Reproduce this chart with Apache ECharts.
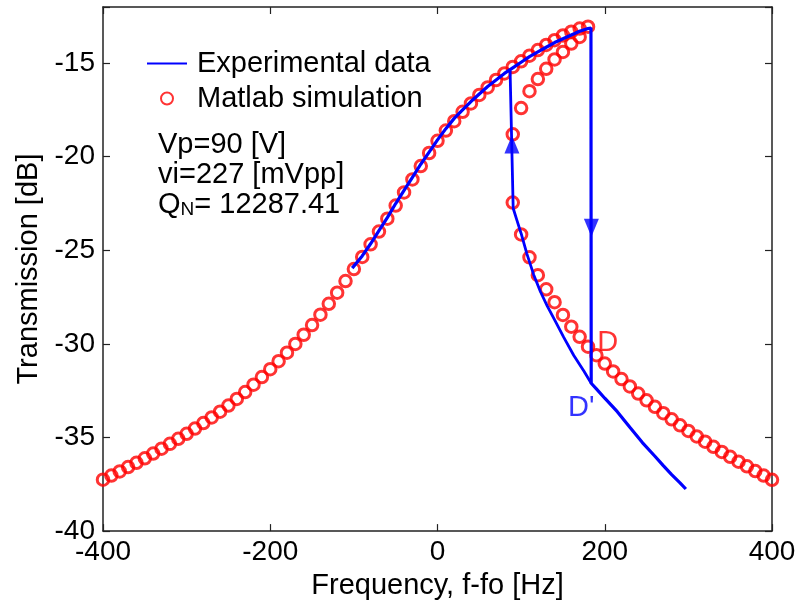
<!DOCTYPE html>
<html>
<head>
<meta charset="utf-8">
<script src="https://cdn.jsdelivr.net/npm/echarts@6/dist/echarts.min.js"></script>
<style>
html,body{margin:0;padding:0;background:#fff;}
#chart{width:800px;height:605px;}
</style>
</head>
<body>
<div id="chart"></div>
<script>
// ---- Data ----
const xTicks = [-400, -200, 0, 200, 400];
const yTicks = [-40, -35, -30, -25, -20, -15];

// Matlab simulation: main branch (left side + upper branch up to jump point)
const simMainF = [-400,-390,-380,-370,-360,-350,-340,-330,-320,-310,-300,-290,-280,-270,-260,-250,-240,-230,-220,-210,-200,-190,-180,-170,-160,-150,-140,-130,-120,-110,-100,-90,-80,-70,-60,-50,-40,-30,-20,-10,0,10,20,30,40,50,60,70,80,90,100,110,120,130,140,150,160,170,180];
const simMainT = [-37.25,-37.03,-36.81,-36.58,-36.35,-36.11,-35.86,-35.60,-35.34,-35.07,-34.80,-34.52,-34.23,-33.93,-33.62,-33.29,-32.94,-32.57,-32.18,-31.77,-31.35,-30.92,-30.47,-30.00,-29.51,-28.99,-28.44,-27.86,-27.26,-26.64,-26.00,-25.35,-24.68,-24.00,-23.31,-22.61,-21.91,-21.21,-20.50,-19.80,-19.15,-18.60,-18.10,-17.60,-17.15,-16.70,-16.30,-15.90,-15.55,-15.20,-14.90,-14.60,-14.30,-14.03,-13.77,-13.52,-13.32,-13.15,-13.05];
// Matlab simulation: middle (unstable) branch
const simMidF = [90,100,110,120,130,140,150,160,170];
const simMidT = [-18.8,-17.4,-16.5,-15.85,-15.3,-14.8,-14.4,-13.95,-13.6];
// Matlab simulation: lower-right branch
const simLowF = [90,100,110,120,130,140,150,160,170,180,190,200,210,220,230,240,250,260,270,280,290,300,310,320,330,340,350,360,370,380,390,400];
const simLowT = [-22.45,-24.15,-25.37,-26.33,-27.08,-27.77,-28.45,-29.08,-29.62,-30.15,-30.6,-31.05,-31.47,-31.88,-32.27,-32.65,-33.01,-33.36,-33.70,-34.03,-34.35,-34.65,-34.94,-35.22,-35.50,-35.77,-36.03,-36.29,-36.54,-36.79,-37.03,-37.26];

// Experimental data: sweep-up path (upper branch, jump down at D', then lower branch)
const expUpF = [-102,-90,-80,-70,-60,-50,-40,-30,-20,-10,0,10,20,30,40,50,60,70,80,90,100,110,120,130,140,150,160,170,180,183.5,183.8,190,200,215,230,245,260,270,280,290,297];
const expUpT = [-25.95,-25.3,-24.65,-23.95,-23.25,-22.5,-21.8,-21.1,-20.4,-19.75,-19.1,-18.5,-17.95,-17.5,-17.05,-16.65,-16.25,-15.9,-15.55,-15.25,-14.95,-14.65,-14.4,-14.15,-13.9,-13.7,-13.5,-13.3,-13.15,-13.12,-32.1,-32.4,-32.9,-33.62,-34.45,-35.27,-36.0,-36.5,-36.98,-37.42,-37.75];
// Experimental data: sweep-down path (jump up near 90 Hz, lower branch to D')
const expDownF = [86.8,90.5,95,100,107,115,123,131,141,151,163,175,183.8];
const expDownT = [-15.4,-22.75,-23.4,-24.1,-25.2,-26.3,-27.2,-27.95,-28.8,-29.65,-30.62,-31.45,-32.1];

// Arrow heads (data coordinates) and their directions
const arrowUp = [89, -19.35];
const arrowDown = [184, -23.8];

// Point labels
const labelD = [191, -29.95];
const labelDp = [156, -33.45];

const zip = (a, b) => a.map((v, i) => [v, b[i]]);

const FONT = 'Liberation Sans, Arial, sans-serif';
const AX = '#222';

const chart = echarts.init(document.getElementById('chart'), null, {renderer: 'canvas'});

const axisCommon = {
  type: 'value',
  axisLine: {show: true, onZero: false, lineStyle: {color: AX, width: 1.5}},
  axisTick: {show: true, inside: true, length: 7, lineStyle: {color: AX, width: 1.2}},
  splitLine: {show: false}
};

chart.setOption({
  animation: false,
  backgroundColor: '#fff',
  grid: {left: 103, right: 28, top: 7, bottom: 72, containLabel: false},
  legend: {
    data: [
      {name: 'Experimental data', itemStyle: {opacity: 0}},
      {name: 'Matlab simulation'}
    ],
    orient: 'vertical',
    left: 141, top: 41,
    itemWidth: 40, itemHeight: 12, itemGap: 0,
    selectedMode: false,
    textStyle: {fontFamily: FONT, fontSize: 29, color: '#000', lineHeight: 35, padding: [0,0,0,5]}
  },
  xAxis: [
    Object.assign({}, axisCommon, {
      position: 'bottom', min: -400, max: 400, interval: 200,
      name: 'Frequency, f-fo [Hz]', nameLocation: 'middle', nameGap: 36,
      nameTextStyle: {fontFamily: FONT, fontSize: 29, color: '#000'},
      axisLabel: {fontFamily: FONT, fontSize: 28, color: '#000', margin: 7}
    }),
    Object.assign({}, axisCommon, {
      position: 'top', min: -400, max: 400, interval: 200,
      axisLabel: {show: false}
    })
  ],
  yAxis: [
    Object.assign({}, axisCommon, {
      position: 'left', min: -40, max: -12, interval: 5,
      name: 'Transmission [dB]', nameLocation: 'middle', nameGap: 58, nameRotate: 90,
      nameTextStyle: {fontFamily: FONT, fontSize: 29, color: '#000'},
      axisLabel: {fontFamily: FONT, fontSize: 28, color: '#000', margin: 8,
        formatter: v => (yTicks.indexOf(v) >= 0 ? String(v) : '')}
    }),
    Object.assign({}, axisCommon, {
      position: 'right', min: -40, max: -12, interval: 5,
      axisLabel: {show: false}
    })
  ],
  graphic: [
    {type: 'text', left: 158, top: 130, style: {text: 'Vp=90 [V]', font: '29px ' + FONT, fill: '#000'}},
    {type: 'text', left: 158, top: 160, style: {text: 'vi=227 [mVpp]', font: '29px ' + FONT, fill: '#000'}},
    {type: 'text', left: 158, top: 190, style: {
      text: '{a|Q}{b|N}{a|= 12287.41}',
      rich: {
        a: {fontFamily: FONT, fontSize: 29, fill: '#000', verticalAlign: 'bottom', lineHeight: 32},
        b: {fontFamily: FONT, fontSize: 19, fill: '#000', verticalAlign: 'bottom', lineHeight: 28}
      }
    }}
  ],
  series: [
    {
      name: 'Matlab simulation', type: 'scatter', symbol: 'circle', symbolSize: 11.5,
      itemStyle: {color: 'rgba(0,0,0,0)', borderColor: '#ff0000', borderWidth: 3},
      data: zip(simMainF, simMainT).concat(zip(simMidF, simMidT), zip(simLowF, simLowT)),
      z: 2
    },
    {
      name: 'Experimental data', type: 'line', symbol: 'none', showSymbol: false,
      lineStyle: {color: '#0000ff', width: 3.2}, itemStyle: {color: '#0000ff'},
      data: zip(expUpF, expUpT), z: 3
    },
    {
      name: 'Experimental data', type: 'line', symbol: 'none', showSymbol: false,
      lineStyle: {color: '#0000ff', width: 2.8}, itemStyle: {color: '#0000ff'},
      data: zip(expDownF, expDownT), z: 3
    },
    {
      name: 'arrows', type: 'scatter', symbol: 'triangle', symbolSize: [15, 18],
      itemStyle: {color: '#0000ff'},
      data: [
        {value: arrowUp, symbolRotate: 0},
        {value: arrowDown, symbolRotate: 180}
      ],
      z: 4
    },
    {
      name: 'labels', type: 'scatter', symbolSize: 0, silent: true,
      data: [
        {value: labelD, label: {show: true, formatter: 'D', color: '#ff0000'}},
        {value: labelDp, label: {show: true, formatter: "D'", color: '#0000ff'}}
      ],
      label: {position: 'right', distance: 0, fontFamily: FONT, fontSize: 29},
      z: 5
    }
  ]
});
</script>
</body>
</html>
